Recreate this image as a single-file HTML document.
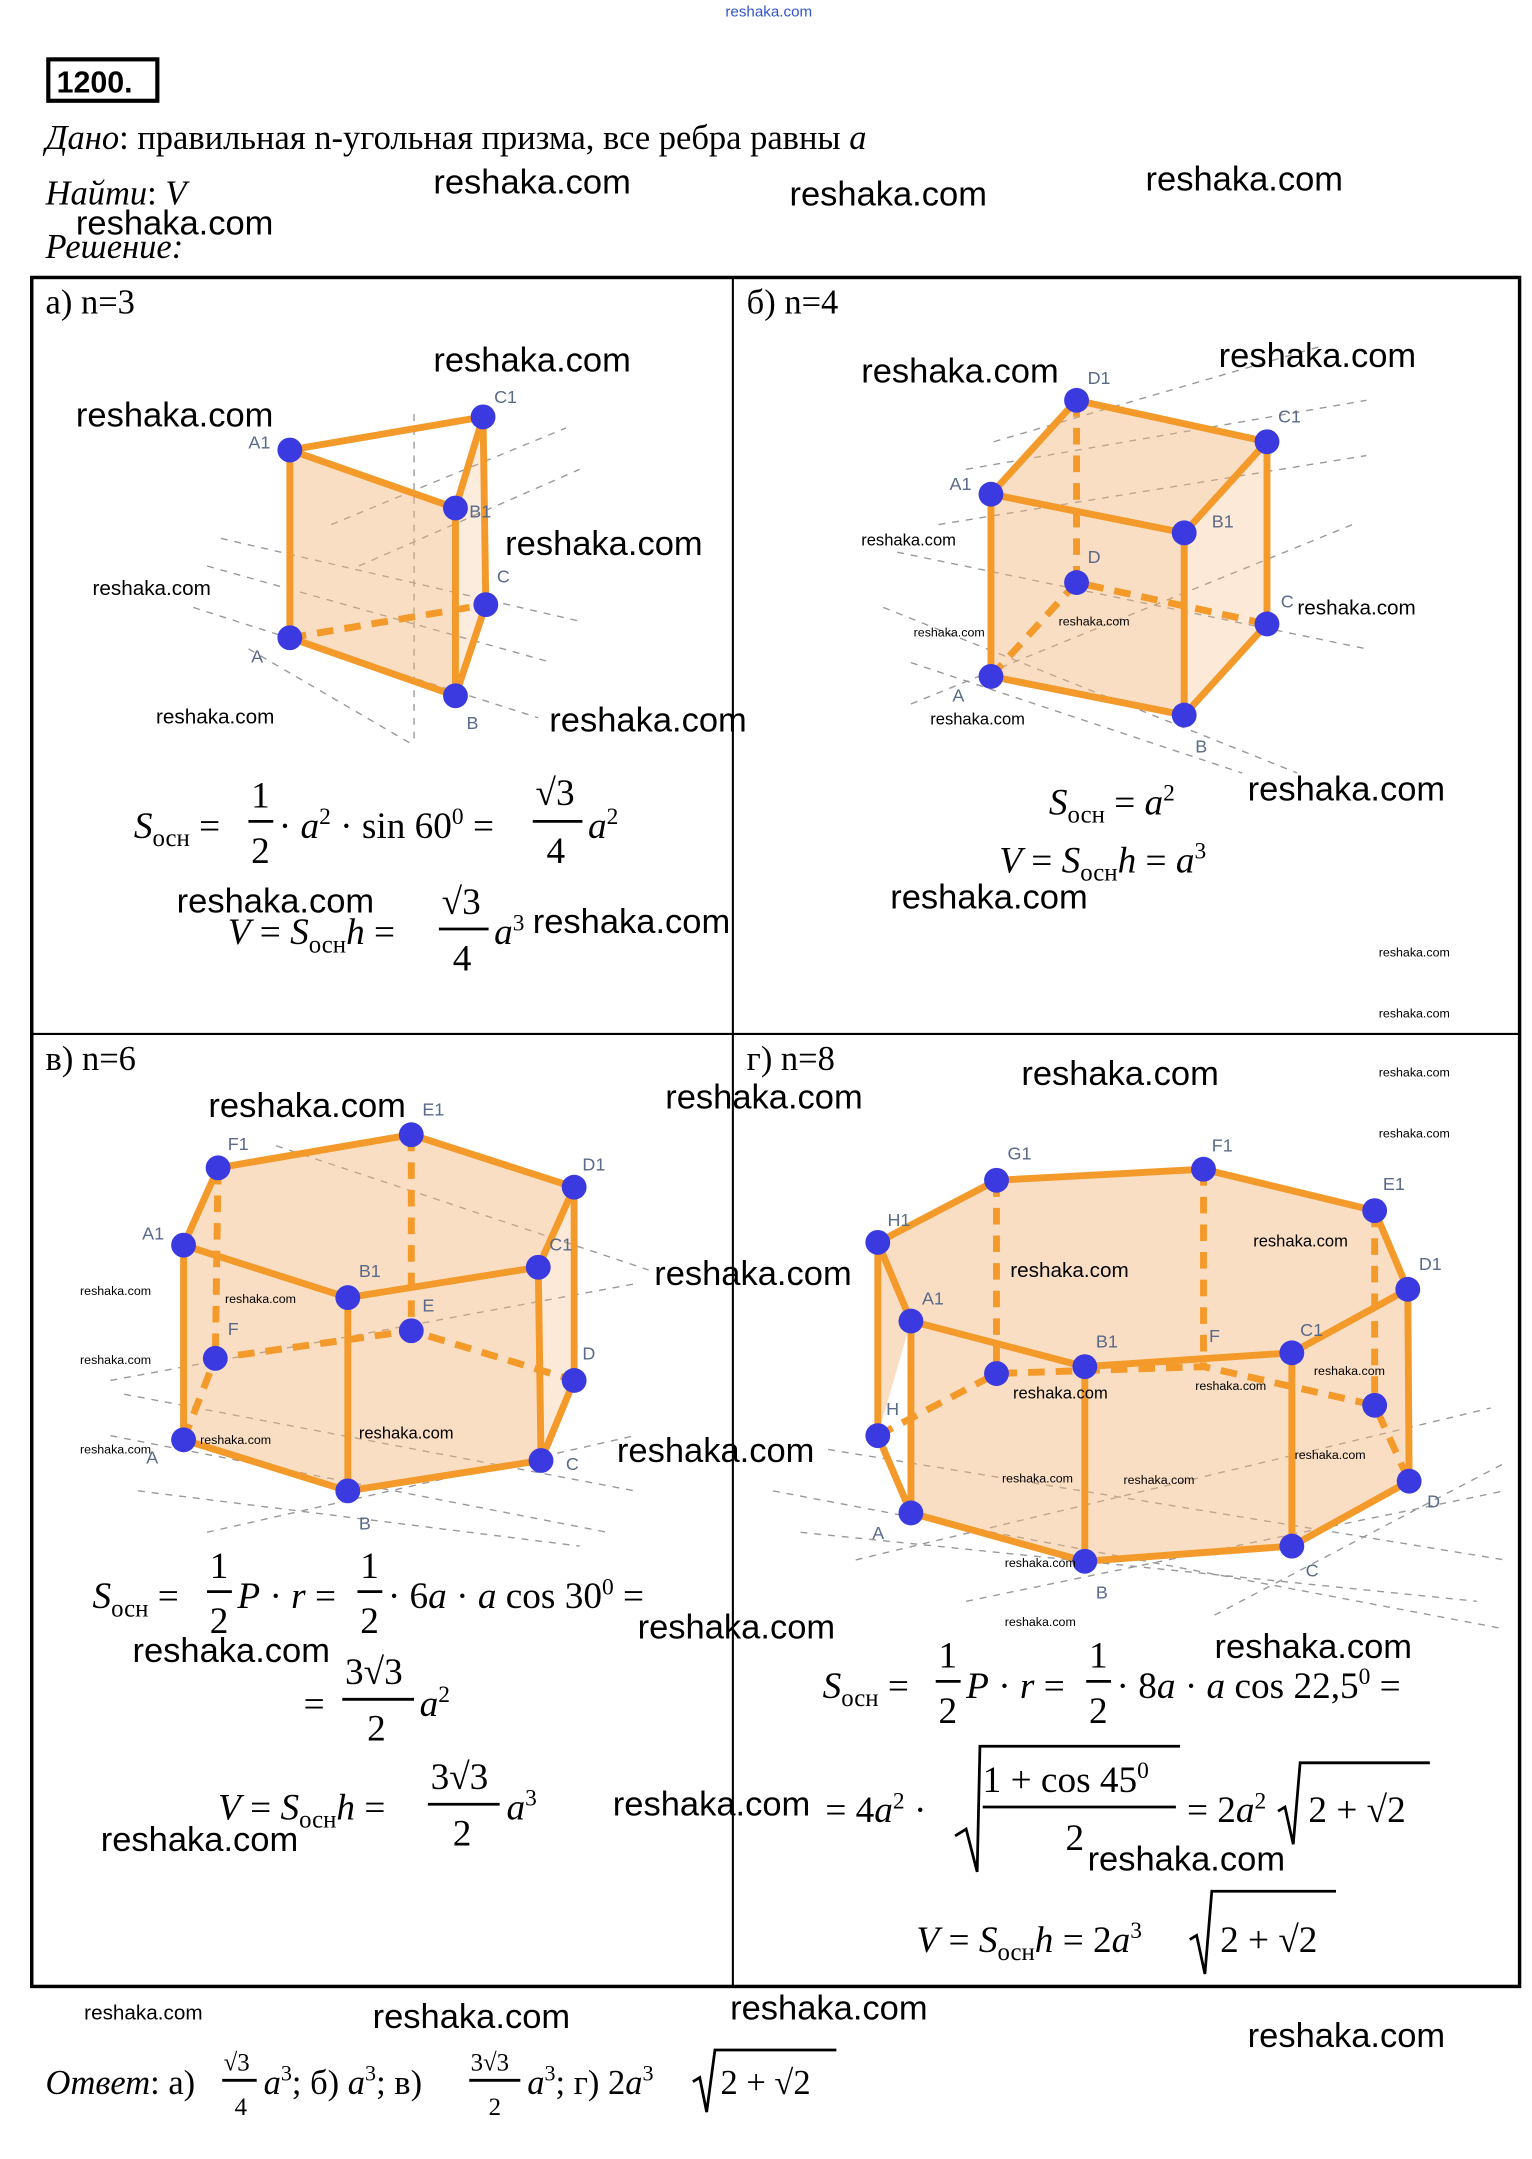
<!DOCTYPE html>
<html><head><meta charset="utf-8"><style>
html,body{margin:0;padding:0;background:#fff;}
svg{display:block;}
.t{font-family:"Liberation Serif",serif;font-size:25px;fill:#000;}
.i{font-style:italic;}
.w{font-family:"Liberation Sans",sans-serif;font-size:25px;fill:#000;}
.ws{font-family:"Liberation Sans",sans-serif;font-size:15px;fill:#000;}
.wt{font-family:"Liberation Sans",sans-serif;font-size:9px;fill:#000;}
.lb{font-family:"Liberation Sans",sans-serif;font-size:13px;fill:#5a6a8a;}
.e{stroke:#f39a2a;stroke-width:5;fill:none;stroke-linecap:round;stroke-linejoin:round;}
.d{stroke:#f39a2a;stroke-width:5;fill:none;stroke-dasharray:12 8;}
.g{stroke:#999;stroke-width:1;stroke-dasharray:5 5;fill:none;}
.f{fill:#f4b57a;fill-opacity:0.45;stroke:none;}
.p{fill:#3a3ae0;}
</style></head><body>
<svg width="1532" height="2159" viewBox="0 0 1110 1564" preserveAspectRatio="none" xmlns="http://www.w3.org/2000/svg">
<text x="557" y="12" class="wt" style="font-size:11px;fill:#3355cc" text-anchor="middle">reshaka.com</text>
<rect x="35" y="43" width="79" height="30" fill="none" stroke="#000" stroke-width="3"/>
<text x="41" y="67" style="font-family:'Liberation Sans',sans-serif;font-size:22px;font-weight:bold">1200.</text>
<text x="33" y="108" class="t"><tspan class="i">Дано</tspan>: правильная n-угольная призма, все ребра равны <tspan class="i">a</tspan></text>
<text x="33" y="148" class="t"><tspan class="i">Найти</tspan>: <tspan class="i">V</tspan></text>
<text x="33" y="187" class="t i">Решение:</text>
<text x="55" y="170" class="w">reshaka.com</text>
<text x="314" y="140" class="w">reshaka.com</text>
<text x="572" y="149" class="w">reshaka.com</text>
<text x="830" y="138" class="w">reshaka.com</text>

<!-- table -->
<rect x="23" y="201" width="1078" height="1238" fill="none" stroke="#000" stroke-width="2.5"/>
<line x1="531" y1="201" x2="531" y2="1439" stroke="#000" stroke-width="1.5"/>
<line x1="23" y1="749" x2="1101" y2="749" stroke="#000" stroke-width="1.5"/>
<text x="33" y="227" class="t">а) n=3</text>
<text x="541" y="227" class="t">б) n=4</text>
<text x="33" y="775" class="t">в) n=6</text>
<text x="541" y="775" class="t" fill="#444">г) n=8</text>

<!-- grids -->
<g class="g">
<path d="M150 410 L400 480 M140 440 L390 520 M160 390 L420 450 M180 470 L300 540 M240 380 L410 310 M260 410 L420 340 M300 300 L300 540"/>
<path d="M640 440 L940 560 M650 400 L990 470 M660 480 L900 560 M700 340 L990 290 M720 320 L960 250 M680 380 L990 330 M660 510 L980 380"/>
<path d="M80 1040 L440 1110 M90 1010 L460 1080 M100 1080 L420 1120 M80 1000 L460 930 M150 1110 L460 1040 M200 830 L470 920"/>
<path d="M560 1080 L1090 1180 M580 1110 L1070 1160 M600 1050 L1090 1130 M620 1130 L1080 1020 M700 1160 L1090 1080 M880 1170 L1090 1060"/>
</g>

<!-- prism a -->
<polygon class="f" points="210,326 330,368 330,504 210,462"/>
<polygon class="f" points="330,368 350,302 352,438 330,504" style="fill-opacity:0.25"/>
<line class="d" x1="210" y1="462" x2="352" y2="438"/>
<path class="e" d="M210 326 L330 368 L350 302 Z M210 326 L210 462 L330 504 L352 438 L350 302 M330 368 L330 504"/>
<g class="p"><circle cx="210" cy="326" r="9"/><circle cx="330" cy="368" r="9"/><circle cx="350" cy="302" r="9"/><circle cx="210" cy="462" r="9"/><circle cx="330" cy="504" r="9"/><circle cx="352" cy="438" r="9"/></g>
<text x="180" y="325" class="lb">A1</text><text x="340" y="375" class="lb">B1</text><text x="358" y="292" class="lb">C1</text>
<text x="182" y="480" class="lb">A</text><text x="338" y="528" class="lb">B</text><text x="360" y="422" class="lb">C</text>

<!-- prism b -->
<polygon class="f" points="718,358 858,386 858,518 718,490"/>
<polygon class="f" points="780,290 918,320 858,386 718,358"/>
<polygon class="f" points="858,386 918,320 918,452 858,518" style="fill-opacity:0.3"/>
<path class="d" d="M780 290 L780 422 M718 490 L780 422 L918 452"/>
<path class="e" d="M780 290 L918 320 L858 386 L718 358 Z M718 358 L718 490 L858 518 L918 452 L918 320 M858 386 L858 518"/>
<g class="p"><circle cx="780" cy="290" r="9"/><circle cx="918" cy="320" r="9"/><circle cx="718" cy="358" r="9"/><circle cx="858" cy="386" r="9"/><circle cx="780" cy="422" r="9"/><circle cx="918" cy="452" r="9"/><circle cx="718" cy="490" r="9"/><circle cx="858" cy="518" r="9"/></g>
<text x="788" y="278" class="lb">D1</text><text x="926" y="306" class="lb">C1</text><text x="688" y="355" class="lb">A1</text><text x="878" y="382" class="lb">B1</text>
<text x="788" y="408" class="lb">D</text><text x="928" y="440" class="lb">C</text><text x="690" y="508" class="lb">A</text><text x="866" y="545" class="lb">B</text>

<!-- prism v -->
<polygon class="f" points="133,902 252,940 390,918 416,860 298,822 158,846"/>
<polygon class="f" points="133,902 252,940 252,1080 133,1043"/>
<polygon class="f" points="252,940 390,918 392,1058 252,1080"/>
<polygon class="f" points="390,918 416,860 416,1000 392,1058" style="fill-opacity:0.3"/>
<path class="d" d="M298 822 L298 964 M158 846 L156 984 M133 1043 L156 984 L298 964 L416 1000"/>
<path class="e" d="M133 902 L252 940 L390 918 L416 860 L298 822 L158 846 Z M133 902 L133 1043 L252 1080 L392 1058 L416 1000 L416 860 M252 940 L252 1080 M390 918 L392 1058"/>
<g class="p"><circle cx="133" cy="902" r="9"/><circle cx="252" cy="940" r="9"/><circle cx="390" cy="918" r="9"/><circle cx="416" cy="860" r="9"/><circle cx="298" cy="822" r="9"/><circle cx="158" cy="846" r="9"/><circle cx="133" cy="1043" r="9"/><circle cx="252" cy="1080" r="9"/><circle cx="392" cy="1058" r="9"/><circle cx="416" cy="1000" r="9"/><circle cx="298" cy="964" r="9"/><circle cx="156" cy="984" r="9"/></g>
<text x="103" y="898" class="lb">A1</text><text x="260" y="925" class="lb">B1</text><text x="398" y="906" class="lb">C1</text><text x="422" y="848" class="lb">D1</text><text x="306" y="808" class="lb">E1</text><text x="165" y="833" class="lb">F1</text>
<text x="106" y="1060" class="lb">A</text><text x="260" y="1108" class="lb">B</text><text x="410" y="1065" class="lb">C</text><text x="422" y="985" class="lb">D</text><text x="306" y="950" class="lb">E</text><text x="165" y="967" class="lb">F</text>

<!-- prism g -->
<polygon class="f" points="660,957 786,990 936,980 1020,934 996,877 872,847 722,855 636,900"/>
<polygon class="f" points="636,900 660,957 660,1096 786,1131 936,1120 1021,1073 1020,934 936,980 786,990 660,957 636,1040"/>
<path class="d" d="M996 877 L996 1018 M872 847 L872 990 M722 855 L722 995 M636 1040 L722 995 L872 990 L996 1018 L1021 1073"/>
<path class="e" d="M660 957 L786 990 L936 980 L1020 934 L996 877 L872 847 L722 855 L636 900 Z M636 900 L636 1040 L660 1096 L786 1131 L936 1120 L1021 1073 L1020 934 M660 957 L660 1096 M786 990 L786 1131 M936 980 L936 1120"/>
<g class="p"><circle cx="660" cy="957" r="9"/><circle cx="786" cy="990" r="9"/><circle cx="936" cy="980" r="9"/><circle cx="1020" cy="934" r="9"/><circle cx="996" cy="877" r="9"/><circle cx="872" cy="847" r="9"/><circle cx="722" cy="855" r="9"/><circle cx="636" cy="900" r="9"/><circle cx="660" cy="1096" r="9"/><circle cx="786" cy="1131" r="9"/><circle cx="936" cy="1120" r="9"/><circle cx="1021" cy="1073" r="9"/><circle cx="996" cy="1018" r="9"/><circle cx="722" cy="995" r="9"/><circle cx="636" cy="1040" r="9"/></g>
<text x="668" y="945" class="lb">A1</text><text x="794" y="976" class="lb">B1</text><text x="942" y="968" class="lb">C1</text><text x="1028" y="920" class="lb">D1</text><text x="1002" y="862" class="lb">E1</text><text x="878" y="834" class="lb">F1</text><text x="730" y="840" class="lb">G1</text><text x="643" y="888" class="lb">H1</text>
<text x="632" y="1115" class="lb">A</text><text x="794" y="1158" class="lb">B</text><text x="946" y="1142" class="lb">C</text><text x="1034" y="1092" class="lb">D</text><text x="876" y="972" class="lb">F</text><text x="642" y="1025" class="lb">H</text>

<!-- formulas a -->
<g class="t" style="font-size:27px">
<text x="97" y="607"><tspan class="i">S</tspan><tspan style="font-size:18px" dy="6">осн</tspan><tspan dy="-6"> = </tspan></text>
<text x="182" y="585">1</text><line x1="180" y1="595" x2="198" y2="595" stroke="#000" stroke-width="2"/><text x="182" y="625">2</text>
<text x="202" y="607">· <tspan class="i">a</tspan><tspan dy="-10" style="font-size:17px">2</tspan><tspan dy="10"> · sin 60</tspan><tspan dy="-10" style="font-size:17px">0</tspan><tspan dy="10"> = </tspan></text>
<text x="388" y="583">√3</text><line x1="386" y1="595" x2="422" y2="595" stroke="#000" stroke-width="2"/><text x="396" y="625">4</text>
<text x="426" y="607" class="i">a<tspan dy="-10" style="font-size:17px;font-style:normal">2</tspan></text>

<text x="165" y="684"><tspan class="i">V</tspan> = <tspan class="i">S</tspan><tspan style="font-size:18px" dy="6">осн</tspan><tspan dy="-6" class="i">h</tspan> = </text>
<text x="320" y="662">√3</text><line x1="318" y1="673" x2="354" y2="673" stroke="#000" stroke-width="2"/><text x="328" y="703">4</text>
<text x="358" y="684" class="i">a<tspan dy="-10" style="font-size:17px;font-style:normal">3</tspan></text>

<!-- b -->
<text x="760" y="590"><tspan class="i">S</tspan><tspan style="font-size:18px" dy="6">осн</tspan><tspan dy="-6"> = </tspan><tspan class="i">a</tspan><tspan dy="-10" style="font-size:17px">2</tspan></text>
<text x="724" y="632"><tspan class="i">V</tspan> = <tspan class="i">S</tspan><tspan style="font-size:18px" dy="6">осн</tspan><tspan dy="-6" class="i">h</tspan> = <tspan class="i">a</tspan><tspan dy="-10" style="font-size:17px">3</tspan></text>

<!-- v -->
<text x="67" y="1165"><tspan class="i">S</tspan><tspan style="font-size:18px" dy="6">осн</tspan><tspan dy="-6"> = </tspan></text>
<text x="152" y="1143">1</text><line x1="150" y1="1153" x2="168" y2="1153" stroke="#000" stroke-width="2"/><text x="152" y="1183">2</text>
<text x="172" y="1165"><tspan class="i">P</tspan> · <tspan class="i">r</tspan> = </text>
<text x="261" y="1143">1</text><line x1="259" y1="1153" x2="277" y2="1153" stroke="#000" stroke-width="2"/><text x="261" y="1183">2</text>
<text x="281" y="1165">· 6<tspan class="i">a</tspan> · <tspan class="i">a</tspan> cos 30<tspan dy="-10" style="font-size:17px">0</tspan><tspan dy="10"> =</tspan></text>
<text x="220" y="1243">=</text>
<text x="250" y="1220">3√3</text><line x1="248" y1="1231" x2="300" y2="1231" stroke="#000" stroke-width="2"/><text x="266" y="1261">2</text>
<text x="304" y="1243" class="i">a<tspan dy="-10" style="font-size:17px;font-style:normal">2</tspan></text>
<text x="158" y="1318"><tspan class="i">V</tspan> = <tspan class="i">S</tspan><tspan style="font-size:18px" dy="6">осн</tspan><tspan dy="-6" class="i">h</tspan> = </text>
<text x="312" y="1296">3√3</text><line x1="310" y1="1307" x2="362" y2="1307" stroke="#000" stroke-width="2"/><text x="328" y="1337">2</text>
<text x="367" y="1318" class="i">a<tspan dy="-10" style="font-size:17px;font-style:normal">3</tspan></text>

<!-- g -->
<text x="596" y="1230"><tspan class="i">S</tspan><tspan style="font-size:18px" dy="6">осн</tspan><tspan dy="-6"> = </tspan></text>
<text x="680" y="1208">1</text><line x1="678" y1="1218" x2="696" y2="1218" stroke="#000" stroke-width="2"/><text x="680" y="1248">2</text>
<text x="700" y="1230"><tspan class="i">P</tspan> · <tspan class="i">r</tspan> = </text>
<text x="789" y="1208">1</text><line x1="787" y1="1218" x2="805" y2="1218" stroke="#000" stroke-width="2"/><text x="789" y="1248">2</text>
<text x="809" y="1230">· 8<tspan class="i">a</tspan> · <tspan class="i">a</tspan> cos 22,5<tspan dy="-10" style="font-size:17px">0</tspan><tspan dy="10"> =</tspan></text>
<text x="598" y="1320">= 4<tspan class="i">a</tspan><tspan dy="-10" style="font-size:17px">2</tspan><tspan dy="10"> ·</tspan></text>
<path d="M692 1330 L700 1325 L708 1356 L710 1265 L855 1265" stroke="#000" stroke-width="2" fill="none"/>
<text x="712" y="1298">1 + cos 45<tspan dy="-10" style="font-size:17px">0</tspan></text>
<line x1="712" y1="1309" x2="852" y2="1309" stroke="#000" stroke-width="2"/><text x="772" y="1340">2</text>
<text x="860" y="1320">= 2<tspan class="i">a</tspan><tspan dy="-10" style="font-size:17px">2</tspan></text>
<path d="M926 1312 L931 1309 L937 1336 L942 1277 L1036 1277" stroke="#000" stroke-width="2" fill="none"/>
<text x="948" y="1320">2 + √2</text>
<text x="664" y="1414"><tspan class="i">V</tspan> = <tspan class="i">S</tspan><tspan style="font-size:18px" dy="6">осн</tspan><tspan dy="-6" class="i">h</tspan> = 2<tspan class="i">a</tspan><tspan dy="-10" style="font-size:17px">3</tspan></text>
<path d="M862 1405 L867 1402 L873 1430 L878 1370 L968 1370" stroke="#000" stroke-width="2" fill="none"/>
<text x="884" y="1414">2 + √2</text>
</g>

<!-- answer -->
<g class="t">
<text x="33" y="1517"><tspan class="i">Ответ</tspan>: а)</text>
<text x="162" y="1500" style="font-size:18px">√3</text><line x1="161" y1="1507" x2="186" y2="1507" stroke="#000" stroke-width="2"/><text x="170" y="1532" style="font-size:18px">4</text>
<text x="191" y="1517"><tspan class="i">a</tspan><tspan dy="-10" style="font-size:16px">3</tspan><tspan dy="10">; б) </tspan><tspan class="i">a</tspan><tspan dy="-10" style="font-size:16px">3</tspan><tspan dy="10">; в)</tspan></text>
<text x="341" y="1500" style="font-size:18px">3√3</text><line x1="340" y1="1507" x2="377" y2="1507" stroke="#000" stroke-width="2"/><text x="354" y="1532" style="font-size:18px">2</text>
<text x="382" y="1517"><tspan class="i">a</tspan><tspan dy="-10" style="font-size:16px">3</tspan><tspan dy="10">; г) 2</tspan><tspan class="i">a</tspan><tspan dy="-10" style="font-size:16px">3</tspan></text>
<path d="M502 1508 L507 1505 L512 1530 L518 1485 L606 1485" stroke="#000" stroke-width="2" fill="none"/>
<text x="522" y="1517">2 + √2</text>
</g>

<!-- watermarks -->
<g class="w">
<text x="314" y="269">reshaka.com</text>
<text x="55" y="309">reshaka.com</text>
<text x="366" y="402">reshaka.com</text>
<text x="398" y="530">reshaka.com</text>
<text x="128" y="661">reshaka.com</text>
<text x="386" y="676">reshaka.com</text>
<text x="624" y="277">reshaka.com</text>
<text x="883" y="266">reshaka.com</text>
<text x="904" y="580">reshaka.com</text>
<text x="645" y="658">reshaka.com</text>
<text x="151" y="809">reshaka.com</text>
<text x="482" y="803">reshaka.com</text>
<text x="740" y="786">reshaka.com</text>
<text x="474" y="931">reshaka.com</text>
<text x="447" y="1059">reshaka.com</text>
<text x="96" y="1204">reshaka.com</text>
<text x="462" y="1187">reshaka.com</text>
<text x="880" y="1201">reshaka.com</text>
<text x="444" y="1315">reshaka.com</text>
<text x="73" y="1341">reshaka.com</text>
<text x="788" y="1355">reshaka.com</text>
<text x="270" y="1469">reshaka.com</text>
<text x="529" y="1463">reshaka.com</text>
<text x="904" y="1483">reshaka.com</text>
</g>
<g class="ws">
<text x="67" y="431">reshaka.com</text>
<text x="113" y="524">reshaka.com</text>
<text x="940" y="445">reshaka.com</text>
<text x="732" y="925">reshaka.com</text>
<text x="61" y="1463">reshaka.com</text>
</g>
<g class="wt" style="font-size:12px">
<text x="624" y="395">reshaka.com</text>
<text x="674" y="525">reshaka.com</text>
<text x="908" y="903">reshaka.com</text>
<text x="734" y="1013">reshaka.com</text>
<text x="260" y="1042">reshaka.com</text>
</g>
<g class="wt">
<text x="767" y="453">reshaka.com</text>
<text x="662" y="461">reshaka.com</text>
<text x="999" y="693">reshaka.com</text>
<text x="999" y="737">reshaka.com</text>
<text x="999" y="780">reshaka.com</text>
<text x="999" y="824">reshaka.com</text>
<text x="58" y="938">reshaka.com</text>
<text x="163" y="944">reshaka.com</text>
<text x="58" y="988">reshaka.com</text>
<text x="58" y="1053">reshaka.com</text>
<text x="145" y="1046">reshaka.com</text>
<text x="952" y="996">reshaka.com</text>
<text x="938" y="1057">reshaka.com</text>
<text x="866" y="1007">reshaka.com</text>
<text x="814" y="1075">reshaka.com</text>
<text x="726" y="1074">reshaka.com</text>
<text x="728" y="1135">reshaka.com</text>
<text x="728" y="1178">reshaka.com</text>
</g>
</svg>
</body></html>
